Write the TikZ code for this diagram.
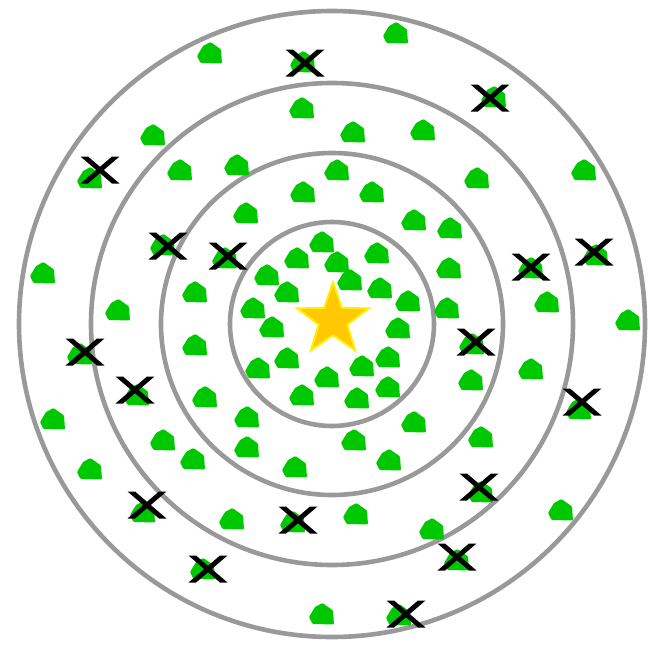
\documentclass[tikz,border=0pt]{standalone}
\usetikzlibrary{shapes.geometric}
\definecolor{ringgray}{RGB}{153,153,153}
\definecolor{blobgreen}{RGB}{0,200,0}
\definecolor{stargold}{RGB}{255,200,0}
\definecolor{staredge}{RGB}{255,238,0}
\begin{document}
\begin{tikzpicture}[x=1pt,y=-1pt,
  blob/.pic={\fill[blobgreen,rounded corners=1pt] (0.5,-11) -- (11,-3.5) -- (12,10.5) -- (-9.5,10) -- (-13,3) -- (-7,-7) -- cycle;},
  cross/.pic={\fill[black] (-19.5,-13.5) -- (-12,-13.5) -- (19.5,13.5) -- (12,13.5) -- cycle;
              \fill[black] (12,-13.5) -- (19.5,-13.5) -- (-12,13.5) -- (-19.5,13.5) -- cycle;},
  ring/.style={draw=ringgray,line width=4.6pt}]
\useasboundingbox (0,0) rectangle (648,645);
\coordinate (c) at (332,324);
\draw[ring] (c) circle[radius=102];
\draw[ring] (c) circle[radius=171];
\draw[ring] (c) circle[radius=241];
\draw[ring] (c) circle[radius=313];
% outer ring blobs
\foreach \x/\y in {210/53,396/33,153/135,584/170,43/273,628/320,53/419,90/469,561/510,322/614}
  \pic at (\x,\y) {blob};
% third ring blobs
\foreach \x/\y in {302/108,353/132,423/130,180/170,237/165,477/178,118/310,547/302,531/369,163/440,193/459,481/437,232/519,356/514,432/529}
  \pic at (\x,\y) {blob};
% second ring blobs
\foreach \x/\y in {303/192,337/170,372/192,246/213,414/220,450/228,449/268,447/308,195/292,195/345,205/397,247/417,247/447,295/467,354/440,389/460,414/422,471/380}
  \pic at (\x,\y) {blob};
% inner blobs
\foreach \x/\y in {322/242,297/258,337/262,377/253,267/275,350/280,287/292,380/288,408/301,253/308,272/327,398/328,287/358,258/368,388/357,362/366,327/377,388/387,302/395,357/398}
  \pic at (\x,\y) {blob};
% blobs under crosses
\foreach \x/\y in {303/62,494/97,90/178,163/245,225/258,596/255,531/268,80/354,137/395,472/344,579/409,481/492,143/512,293/522,457/560,203/569,399/615}
  \pic at (\x,\y) {blob};
% crosses
\foreach \x/\y in {305/63,490/98,100/170,168/246,228/256,594/252,531/267,85/352,135/390,476/342,582/402,479/487,147/505,298/520,457/557,208/569,406/614}
  \pic at (\x,\y) {cross};
\node[star,star points=5,star point ratio=2.5,minimum size=75pt,inner sep=0pt,
      fill=stargold,draw=staredge,line width=2pt] (star) at (333,320) {};
\end{tikzpicture}
\end{document}
